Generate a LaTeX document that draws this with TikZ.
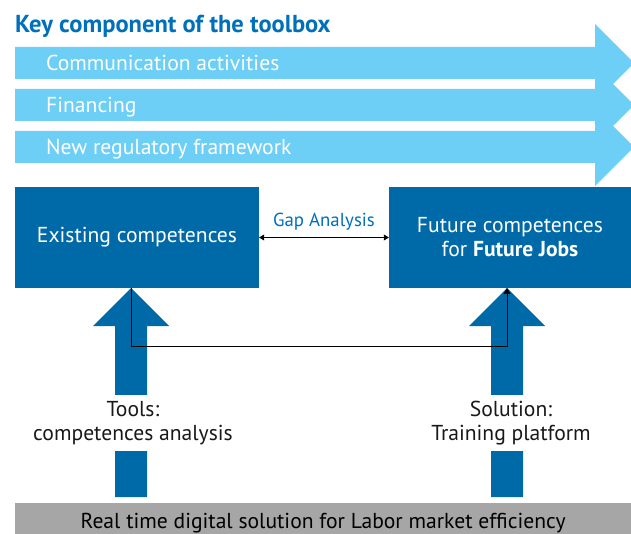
\documentclass[tikz,border=0pt]{standalone}
\usepackage{fontspec}
\setmainfont{PT Sans}
\usetikzlibrary{arrows.meta,positioning}
\definecolor{lightblue}{RGB}{109,207,246}
\definecolor{darkblue}{RGB}{0,106,168}
\definecolor{titleblue}{RGB}{0,112,186}
\definecolor{bargray}{RGB}{166,166,166}

\begin{document}
\begin{tikzpicture}[x=1pt, y=-1pt,
	box/.style={fill=darkblue, text=white, inner sep=0pt, align=center,
		minimum width=244pt, minimum height=101pt, font=\fontsize{21.6}{24}\selectfont},
	bartext/.style={anchor=base west, text=white, inner sep=0pt,
		font=\fontsize{21.6}{24}\selectfont},
	toollabel/.style={fill=white, text=black!90, inner sep=0pt, align=center,
		minimum height=56pt, minimum width=40pt, font=\fontsize{21.6}{24}\selectfont}]
	\clip (0,0) rectangle (631,534);
	% titel
	\node[anchor=base west, text=titleblue, inner sep=0pt,
		font=\bfseries\fontsize{24.5}{28}\selectfont] (title) at (15,33)
		{Key component of the toolbox};
	% die drei hellblauen pfeile
	\foreach \yc in {63,105,147}
		\fill[lightblue] (15,\yc-16) -- (595,\yc-16) -- (595,\yc-39) -- (634,\yc)
			-- (595,\yc+39) -- (595,\yc+16) -- (15,\yc+16) -- cycle;
	\node[bartext] (comm) at (46,71) {Communication activities};
	\node[bartext] (fin) at (46,113) {Financing};
	\node[bartext] (reg) at (46,155) {New regulatory framework};
	% die beiden kaesten
	\node[box] (exist) at (137,237.5) {Existing competences};
	\node[box, minimum width=242pt] (future) at (510,237.5)
		{Future competences\\for \textbf{Future Jobs}};
	% gap analysis
	\draw[semithick, {Triangle[length=5pt,width=6pt]}-{Triangle[length=5pt,width=6pt]}]
		(exist.east) -- (future.west);
	\node[text=titleblue, font=\fontsize{18.8}{22}\selectfont] (gap) at (324,222)
		{Gap Analysis};
	% dicke pfeile nach oben
	\foreach \cx/\name in {131/left, 507/right} {
		\fill[darkblue] (\cx,288) -- (\cx+38,326) -- (\cx+16,326) -- (\cx+16,497)
			-- (\cx-16,497) -- (\cx-16,326) -- (\cx-38,326) -- cycle;
		\coordinate (tip\name) at (\cx,288);
	}
	\coordinate (turn) at (131,346);
	\draw[semithick, -{Triangle[length=6pt,width=7pt]}] (tipleft) -- (turn) -| (tipright);
	% beschriftung der pfeile
	\node[toollabel] (tools) at (133,423) {Tools:\\competences analysis};
	\node[toollabel] (solution) at (511,423) {Solution:\\Training platform};
	% graue leiste
	\node[fill=bargray, anchor=north west, inner sep=0pt, minimum width=616pt,
		minimum height=40pt, font=\fontsize{21.6}{24}\selectfont] (platform) at (15,503)
		{Real time digital solution for Labor market efficiency};
\end{tikzpicture}
\end{document}
